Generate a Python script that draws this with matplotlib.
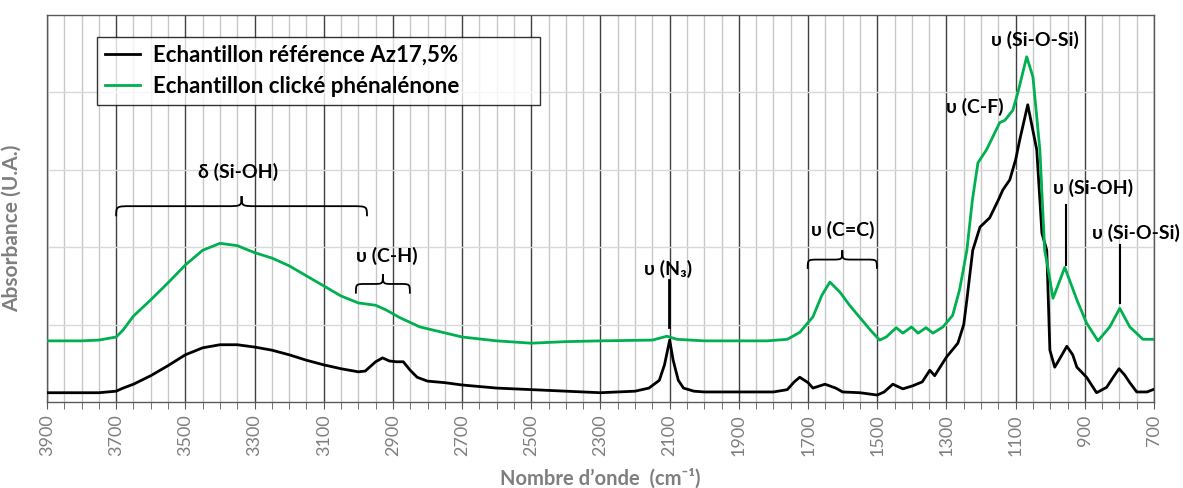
import numpy as np
import matplotlib.pyplot as plt
from matplotlib.path import Path
from matplotlib.patches import PathPatch

plt.rcParams['font.family'] = ['Lato', 'DejaVu Sans']

# nombre d'onde (cm-1) et absorbance (U.A.) - échantillon de référence
wn_ref = [3900, 3800, 3750, 3700, 3680, 3650, 3600, 3550, 3500, 3450, 3400, 3350,
          3300, 3250, 3200, 3150, 3100, 3050, 3000, 2980, 2950, 2930, 2910, 2890,
          2870, 2850, 2830, 2800, 2750, 2700, 2600, 2500, 2400, 2300, 2250, 2200,
          2160, 2130, 2115, 2100, 2090, 2075, 2060, 2030, 2000, 1900, 1800, 1760,
          1740, 1724, 1700, 1686, 1651, 1620, 1600, 1550, 1500, 1480, 1455, 1426,
          1397, 1370, 1348, 1334, 1300, 1267, 1250, 1241, 1224, 1203, 1175, 1150,
          1137, 1117, 1100, 1088, 1065, 1039, 1024, 1010, 1001, 987, 975, 952,
          935, 923, 895, 866, 837, 815, 801, 785, 770, 750, 720, 703]
abs_ref = [0.12, 0.12, 0.12, 0.14, 0.18, 0.23, 0.34, 0.47, 0.61, 0.70, 0.74, 0.74,
           0.71, 0.67, 0.61, 0.54, 0.48, 0.43, 0.39, 0.40, 0.52, 0.57, 0.53, 0.52,
           0.52, 0.41, 0.32, 0.27, 0.25, 0.22, 0.18, 0.16, 0.14, 0.12, 0.13, 0.14,
           0.18, 0.28, 0.48, 0.80, 0.54, 0.28, 0.18, 0.14, 0.13, 0.13, 0.13, 0.16,
           0.26, 0.32, 0.25, 0.18, 0.23, 0.18, 0.13, 0.12, 0.09, 0.13, 0.23, 0.17,
           0.21, 0.26, 0.41, 0.34, 0.58, 0.76, 1.00, 1.32, 1.96, 2.26, 2.38, 2.61,
           2.74, 2.87, 3.13, 3.39, 3.84, 3.26, 2.18, 1.96, 0.67, 0.45, 0.54, 0.72,
           0.61, 0.45, 0.32, 0.12, 0.19, 0.34, 0.43, 0.35, 0.25, 0.13, 0.13, 0.16]

# échantillon clické phénalénone
wn_click = [3900, 3800, 3750, 3700, 3680, 3650, 3600, 3550, 3500, 3450, 3400, 3350,
            3300, 3250, 3200, 3150, 3100, 3050, 3000, 2950, 2920, 2880, 2822, 2700,
            2600, 2500, 2400, 2300, 2150, 2108, 2079, 2000, 1819, 1760, 1724, 1686,
            1660, 1637, 1608, 1580, 1550, 1520, 1493, 1474, 1445, 1426, 1401, 1382,
            1359, 1339, 1310, 1282, 1262, 1241, 1225, 1209, 1184, 1146, 1131, 1108,
            1094, 1068, 1050, 1030, 1016, 1007, 992, 979, 958, 923, 895, 862,
            828, 799, 770, 732, 703]
abs_click = [0.79, 0.79, 0.80, 0.84, 0.93, 1.11, 1.32, 1.54, 1.77, 1.96, 2.05, 2.02,
             1.93, 1.86, 1.76, 1.63, 1.50, 1.37, 1.28, 1.25, 1.19, 1.09, 0.97, 0.84,
             0.79, 0.76, 0.78, 0.79, 0.80, 0.85, 0.81, 0.79, 0.79, 0.81, 0.90, 1.10,
             1.38, 1.55, 1.42, 1.25, 1.09, 0.93, 0.80, 0.84, 0.96, 0.89, 0.97, 0.89,
             0.96, 0.89, 0.97, 1.12, 1.45, 1.96, 2.61, 3.09, 3.26, 3.61, 3.64, 3.77,
             3.99, 4.46, 4.20, 3.26, 1.96, 1.74, 1.34, 1.49, 1.74, 1.32, 1.02, 0.79,
             0.97, 1.21, 0.97, 0.81, 0.81]

gray = '#7f7f7f'
fig = plt.figure(figsize=(11.83, 4.88), dpi=100)
ax = fig.add_axes([0.0397, 0.1762, 0.9358, 0.7931])

ax.plot(wn_ref, abs_ref, color='black', lw=2.0, label='Echantillon référence Az17,5%', zorder=3)
ax.plot(wn_click, abs_click, color='#00b050', lw=2.0, label='Echantillon clické phénalénone', zorder=3)

ax.set_xlim(3900, 700)
ax.set_ylim(0, 5)
ax.set_xticks(np.arange(3900, 699, -200))
ax.set_xticks(np.arange(3900, 699, -50), minor=True)
ax.set_yticks([1, 2, 3, 4])
ax.set_yticklabels([])
ax.tick_params(axis='y', length=0)
ax.tick_params(axis='x', which='both', direction='out', length=5, color='#595959')
ax.tick_params(axis='x', labelrotation=90, labelsize=13, labelcolor=gray, pad=4)
ax.grid(axis='x', which='major', color='#404040', lw=1.0)
ax.grid(axis='x', which='minor', color='#c8c8c8', lw=1.0)
ax.grid(axis='y', which='major', color='#d9d9d9', lw=1.0)
ax.set_axisbelow(True)
for sp in ax.spines.values():
    sp.set_color('#595959')
    sp.set_linewidth(1.0)

ax.set_xlabel('Nombre d\u2019onde  (cm\u207b\u00b9)', color=gray, fontsize=14.5, fontweight='bold', labelpad=9)
ax.set_ylabel('Absorbance (U.A.)', color=gray, fontsize=15, fontweight='bold')
ax.yaxis.set_label_coords(-0.0225, 0.45)

leg = ax.legend(loc='upper left', bbox_to_anchor=(0.045, 0.745, 0.40, 0.198), mode='expand',
                borderaxespad=0, frameon=True, fancybox=False,
                prop={'size': 16, 'weight': 'bold'}, handlelength=1.6, borderpad=0.35,
                labelspacing=0.45, handletextpad=0.6)
leg.get_frame().set_edgecolor('black')
leg.get_frame().set_linewidth(1.0)


def brace(x0, x1, y0, h, d=12):
    # accolade horizontale pointant vers le haut
    xm = (x0 + x1) / 2
    s = 1 if x1 > x0 else -1
    ym = y0 + h / 2
    verts = [(x0, y0), (x0, ym), (x0, ym), (x0 + s * d, ym),
             (xm - s * d, ym), (xm, ym), (xm, ym), (xm, y0 + h),
             (xm, ym), (xm, ym), (xm + s * d, ym),
             (x1 - s * d, ym), (x1, ym), (x1, ym), (x1, y0)]
    codes = [Path.MOVETO, Path.CURVE4, Path.CURVE4, Path.CURVE4,
             Path.LINETO, Path.CURVE4, Path.CURVE4, Path.CURVE4,
             Path.CURVE4, Path.CURVE4, Path.CURVE4,
             Path.LINETO, Path.CURVE4, Path.CURVE4, Path.CURVE4]
    ax.add_patch(PathPatch(Path(verts, codes), fill=False, lw=1.3, color='black', zorder=4))


brace(3700, 2975, 2.40, 0.26, d=45)
brace(3007, 2851, 1.40, 0.25, d=28)
brace(1701, 1501, 1.72, 0.24, d=30)

lab = dict(fontsize=14, fontweight='bold', ha='center', va='center', color='black', zorder=5)
ax.text(3348, 2.97, 'δ (Si-OH)', **lab)
ax.text(2917, 1.89, 'υ (C-H)', **lab)
ax.text(2105, 1.72, 'υ (N\u2083)', **lab)
ax.text(1600, 2.22, 'υ (C=C)', **lab)
ax.text(1218, 3.81, 'υ (C-F)', **lab)
ax.text(1045, 4.68, 'υ (Si-O-Si)', **lab)
ax.text(877, 2.76, 'υ (Si-OH)', **lab)
ax.text(753, 2.18, 'υ (Si-O-Si)', **lab)

ax.plot([2102, 2102], [1.58, 0.97], color='black', lw=2.0, zorder=4)
ax.plot([955, 955], [2.55, 1.77], color='black', lw=1.5, zorder=4)
ax.plot([799, 799], [2.03, 1.28], color='black', lw=1.5, zorder=4)

fig.savefig('out.png', dpi=100)
